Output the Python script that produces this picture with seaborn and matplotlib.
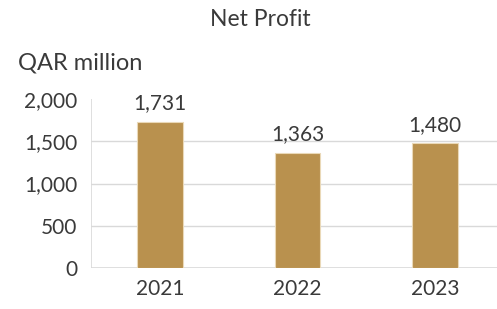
import numpy as np
import pandas as pd
import matplotlib
matplotlib.use("Agg")
import matplotlib.pyplot as plt
import seaborn as sns

years = ["2021", "2022", "2023"]
net_profit = [1731, 1363, 1480]
value_labels = ["1,731", "1,363", "1,480"]
y_ticks = [0, 500, 1000, 1500, 2000]
y_tick_labels = ["0", "500", "1,000", "1,500", "2,000"]

sns.set_style("white")
plt.rcParams['font.family'] = ['Lato', 'DejaVu Sans']

txt = "#3A3A3A"
bar_color = "#B9914E"

df = pd.DataFrame({"Year": years, "Net Profit": net_profit})

fig = plt.figure(figsize=(4.97, 3.09), dpi=100)
ax = fig.add_axes([91 / 497, 41 / 309, 1 - 91 / 497, 169 / 309])

sns.barplot(data=df, x="Year", y="Net Profit", color=bar_color, saturation=1,
            width=0.333, edgecolor="#EAD9B8", linewidth=0.8, ax=ax)

ax.set_ylim(0, 2000)
ax.set_xlim(-0.5, 2.45)
ax.set_yticks(y_ticks)
ax.set_yticklabels(y_tick_labels)
for y in y_ticks[1:-1]:
    ax.axhline(y, color="#D9D9D9", lw=1, zorder=0)
ax.axhline(0, color="#D9D9D9", lw=1.2, zorder=0)
ax.axvline(-0.5, color="#D9D9D9", lw=1.2, zorder=0)

for s in ax.spines.values():
    s.set_visible(False)

ax.tick_params(axis="y", length=0, pad=10, labelsize=15, labelcolor=txt)
ax.tick_params(axis="x", length=0, pad=8, labelsize=15, labelcolor=txt)
ax.set_xlabel("")
ax.set_ylabel("")

ax.bar_label(ax.containers[0], labels=value_labels, padding=6, fontsize=15, color=txt)

fig.text(260 / 497, 1 - 19 / 309, "Net Profit", ha="center", va="center", fontsize=16.5, color=txt)
fig.text(18 / 497, 1 - 63 / 309, "QAR million", ha="left", va="center", fontsize=17, color=txt)

fig.savefig("out.png", dpi=100)
